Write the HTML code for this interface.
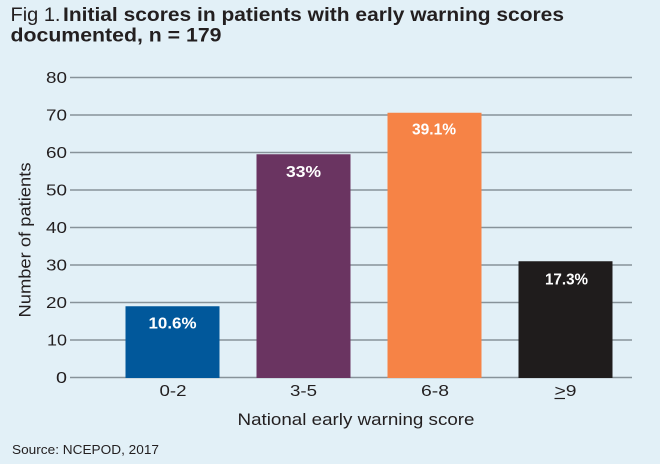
<!DOCTYPE html>
<html><head><meta charset="utf-8">
<style>
html,body{margin:0;padding:0;background:#e2f0f7;}
svg{display:block;}
text{font-family:"Liberation Sans",Arial,sans-serif;fill:#231f20;}
</style></head>
<body>
<svg width="660" height="464" viewBox="0 0 660 464" xmlns="http://www.w3.org/2000/svg">
<rect x="0" y="0" width="660" height="464" fill="#e2f0f7"/>
<!-- Title -->
<text x="10.5" y="21" font-size="19.5"><tspan font-weight="300" textLength="50" lengthAdjust="spacingAndGlyphs">Fig 1.</tspan></text>
<text x="63" y="21" font-size="19.5" font-weight="bold" textLength="501" lengthAdjust="spacingAndGlyphs">Initial scores in patients with early warning scores</text>
<text x="10.5" y="41.5" font-size="19.5" font-weight="bold" textLength="211" lengthAdjust="spacingAndGlyphs">documented, n = 179</text>

<!-- gridlines -->
<g stroke="#87939a" stroke-width="1.5">
<line x1="70" y1="77.5" x2="632" y2="77.5"/>
<line x1="70" y1="115" x2="632" y2="115"/>
<line x1="70" y1="152.5" x2="632" y2="152.5"/>
<line x1="70" y1="190" x2="632" y2="190"/>
<line x1="70" y1="227.5" x2="632" y2="227.5"/>
<line x1="70" y1="265" x2="632" y2="265"/>
<line x1="70" y1="302.5" x2="632" y2="302.5"/>
<line x1="70" y1="340" x2="632" y2="340"/>
<line x1="70" y1="377.5" x2="632" y2="377.5"/>
</g>

<!-- y tick labels -->
<g font-size="15.5">
<text x="46" y="83" textLength="21" lengthAdjust="spacingAndGlyphs">80</text>
<text x="46" y="120.5" textLength="21" lengthAdjust="spacingAndGlyphs">70</text>
<text x="46" y="158" textLength="21" lengthAdjust="spacingAndGlyphs">60</text>
<text x="46" y="195.5" textLength="21" lengthAdjust="spacingAndGlyphs">50</text>
<text x="46" y="233" textLength="21" lengthAdjust="spacingAndGlyphs">40</text>
<text x="46" y="270.5" textLength="21" lengthAdjust="spacingAndGlyphs">30</text>
<text x="46" y="308" textLength="21" lengthAdjust="spacingAndGlyphs">20</text>
<text x="47" y="345.5" textLength="20" lengthAdjust="spacingAndGlyphs">10</text>
<text x="56" y="383" textLength="11" lengthAdjust="spacingAndGlyphs">0</text>
</g>

<!-- y axis title -->
<text transform="translate(30.5,240) rotate(-90)" font-size="16.5" text-anchor="middle" textLength="155" lengthAdjust="spacingAndGlyphs">Number of patients</text>

<!-- bars -->
<rect x="125.5" y="306.25" width="94" height="71.75" fill="#01589b"/>
<rect x="256.5" y="154.25" width="94" height="223.75" fill="#6a3461"/>
<rect x="387.5" y="112.75" width="94" height="265.25" fill="#f68346"/>
<rect x="518.5" y="261.25" width="94" height="116.75" fill="#1f1c1c"/>

<!-- bar labels -->
<g font-size="15.5" font-weight="bold">
<text x="148.5" y="328.5" style="fill:#fff" textLength="48" lengthAdjust="spacingAndGlyphs">10.6%</text>
<text x="286" y="177" style="fill:#fff" textLength="35" lengthAdjust="spacingAndGlyphs">33%</text>
<text x="412" y="134.5" style="fill:#fff" textLength="44" lengthAdjust="spacingAndGlyphs">39.1%</text>
<text x="545" y="284.5" style="fill:#fff" textLength="43" lengthAdjust="spacingAndGlyphs">17.3%</text>
</g>

<!-- category labels -->
<g font-size="15.5">
<text x="159.5" y="396" textLength="27" lengthAdjust="spacingAndGlyphs">0-2</text>
<text x="290" y="396" textLength="27" lengthAdjust="spacingAndGlyphs">3-5</text>
<text x="421" y="396" textLength="28" lengthAdjust="spacingAndGlyphs">6-8</text>
<text x="554.5" y="396" textLength="22" lengthAdjust="spacingAndGlyphs">&gt;9</text>
</g>
<line x1="554.5" y1="398.5" x2="565" y2="398.5" stroke="#231f20" stroke-width="1.2"/>

<!-- x axis title -->
<text x="237.5" y="425" font-size="17" textLength="237" lengthAdjust="spacingAndGlyphs">National early warning score</text>

<!-- source -->
<text x="12" y="454" font-size="12.5" textLength="147" lengthAdjust="spacingAndGlyphs">Source: NCEPOD, 2017</text>
</svg>
</body></html>
